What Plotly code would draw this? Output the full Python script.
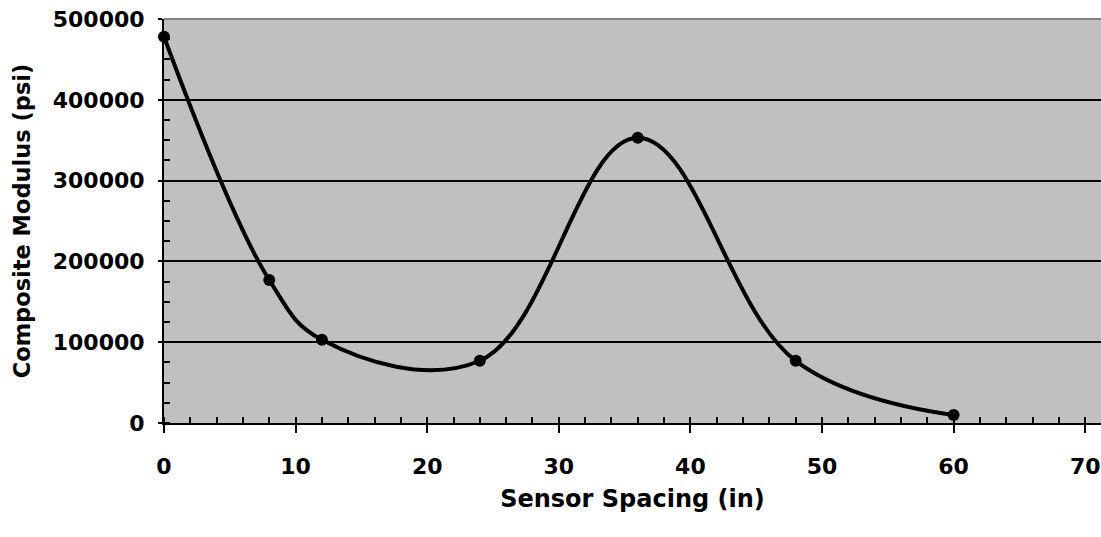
import plotly.graph_objects as go

# Sensor spacing vs composite modulus
spacing_in = [0, 8, 12, 24, 36, 48, 60]
modulus_psi = [478000, 177000, 103000, 77000, 353000, 77000, 10000]

x_ticks = [0, 10, 20, 30, 40, 50, 60, 70]
y_ticks = [0, 100000, 200000, 300000, 400000, 500000]

FONT = "DejaVu Sans"

fig = go.Figure(go.Scatter(
    x=spacing_in,
    y=modulus_psi,
    mode="lines+markers",
    line=dict(color="black", width=4, shape="spline", smoothing=1.1),
    marker=dict(color="black", size=12),
    showlegend=False,
    cliponaxis=False,
))

fig.update_layout(
    width=1101,
    height=537,
    margin=dict(l=164, r=0, t=19, b=114),
    paper_bgcolor="white",
    plot_bgcolor="#C0C0C0",
    font=dict(family=FONT, size=22, color="black"),
    shapes=[dict(type="line", xref="paper", yref="paper", x0=0, x1=1, y0=1, y1=1,
                 line=dict(color="#808080", width=2))],
)

fig.update_xaxes(
    range=[0, 71.2],
    automargin=False,
    ticklabeloverflow="allow",
    tickvals=x_ticks,
    ticktext=[f"<b>{v}</b>" for v in x_ticks],
    tickfont=dict(size=22),
    ticks="outside", ticklen=8, tickwidth=2, tickcolor="black",
    ticklabelstandoff=15,
    minor=dict(dtick=2, ticks="inside", ticklen=6, tickwidth=2, tickcolor="black", showgrid=False),
    showgrid=False,
    showline=True, linecolor="black", linewidth=2,
    zeroline=False,
    title=dict(text="<b>Sensor Spacing (in)</b>", font=dict(size=24), standoff=12),
)

fig.update_yaxes(
    range=[0, 500000],
    automargin=False,
    ticklabeloverflow="allow",
    tickvals=y_ticks,
    ticktext=[f"<b>{v}</b>" for v in y_ticks],
    tickfont=dict(size=22),
    ticks="outside", ticklen=4, tickwidth=2, tickcolor="black",
    ticklabelstandoff=9,
    minor=dict(dtick=25000, ticks="inside", ticklen=6, tickwidth=2, tickcolor="black", showgrid=False),
    showgrid=True, gridcolor="black", gridwidth=2,
    showline=True, linecolor="black", linewidth=2,
    zeroline=False,
    title=dict(text="<b>Composite Modulus (psi)</b>", font=dict(size=22.5), standoff=16),
)

# drop the default page margin so the figure sits at the window corner
fig.write_html("out.html", config={"displayModeBar": False},
               post_script="document.body.style.margin='0';")
